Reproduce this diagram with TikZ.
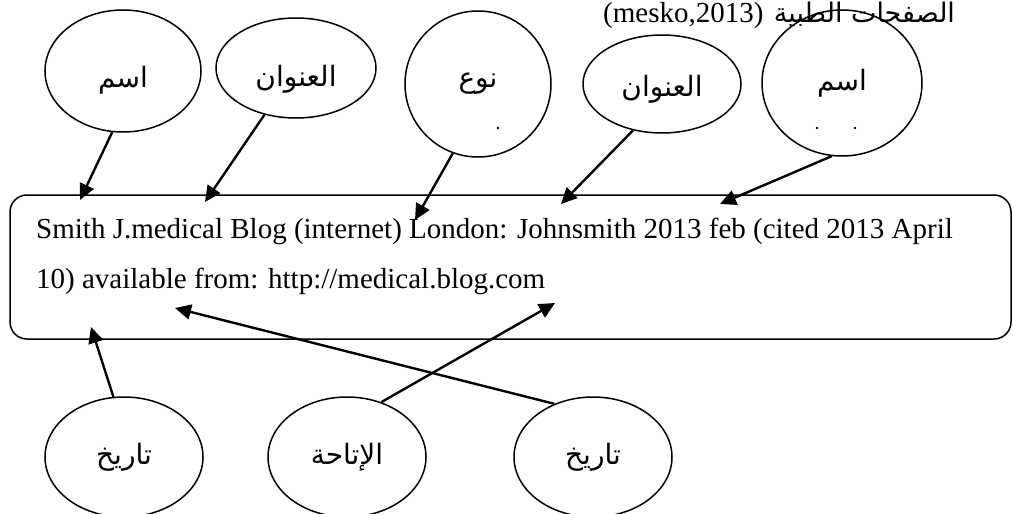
\documentclass[tikz,border=0pt]{standalone}
\usepackage{fontspec}
\setmainfont{Liberation Serif}
\newfontfamily\arabicfont[Script=Arabic]{DejaVu Sans}
\TeXXeTstate=1
\usetikzlibrary{shapes.geometric,arrows.meta,positioning}

\newcommand{\ar}[1]{{\arabicfont\beginR #1\endR}}

\tikzset{
  bubble/.style={draw, ellipse, line width=1.5pt, inner sep=0pt},
  bubbletext/.style={font=\fontsize{28}{32}\selectfont, inner sep=0pt},
  citebox/.style={draw, rounded corners=17pt, line width=1.5pt, inner sep=0pt},
  pointer/.style={-{Triangle[length=16pt,width=15pt]}, line width=2.4pt},
  reftext/.style={anchor=base west, inner sep=0pt, font=\fontsize{29}{35}\selectfont},
}

\begin{document}
\begin{tikzpicture}[x=1pt,y=-1pt]
  % Frame
  \clip (0,0) rectangle (1013,514);

  % Header
  \node[reftext] (mesko) at (603,22) {(mesko,2013)};
  \node[reftext, font=\fontsize{27}{30}\selectfont] (source) at ([xshift=10pt]mesko.base east) {\ar{الصفحات الطبية}};

  % Citation box
  \node[citebox, minimum width=1001pt, minimum height=144pt] (cite) at (510.5,267) {};
  \node[reftext] (line1) at (36,238) {Smith J.medical Blog (internet) London: Johnsmith 2013 feb (cited 2013 April};
  \node[reftext] (line2) at (36,288) {10) available from: http://medical.blog.com};

  % Top bubbles
  \foreach \n/\x/\y/\w/\h/\d/\t in {1/123/71/156/122/9/اسم, 2/296/68/160/100/11/العنوان,
      3/478/84/146/146/0/نوع, 4/662/84/158/98/5/العنوان, 5/842/83/160/146/0/اسم}
    \node[bubble, minimum width=\w, minimum height=\h,
          label={[bubbletext, yshift=-\d pt]center:\ar{\t}}] (e\n) at (\x,\y) {};

  % Cut-off second lines
  \fill (498,128) circle (1.3pt);
  \fill (817,128) circle (1.3pt);
  \fill (855,128) circle (1.3pt);

  % Bottom bubbles
  \foreach \n/\x/\t in {6/124/تاريخ, 7/347/الإتاحة, 8/593/تاريخ}
    \node[bubble, minimum width=158, minimum height=120,
          label={[bubbletext]center:\ar{\t}}] (e\n) at (\x,457) {};

  % Arrow tips
  \coordinate (t1) at (80,200);
  \coordinate (t2) at (205,202);
  \coordinate (t3) at (415,220);
  \coordinate (t4) at (561,204);
  \coordinate (t5) at (720,204);
  \coordinate (t6) at (91,327);
  \coordinate (t7) at (555,303);
  \coordinate (t8) at (175,308);

  % Pointers
  \draw[pointer] (e1.-100) -- (t1);
  \draw[pointer] (e2.-124) -- (t2);
  \draw[pointer] (e3.-110) -- (t3);
  \draw[pointer] (e4.-122) -- (t4);
  \draw[pointer] (e5.-98) -- (t5);
  \draw[pointer] (e6.100) -- (t6);
  \draw[pointer] (e7.58) -- (t7);
  \draw[pointer] (e8.126) -- (t8);
\end{tikzpicture}
\end{document}
